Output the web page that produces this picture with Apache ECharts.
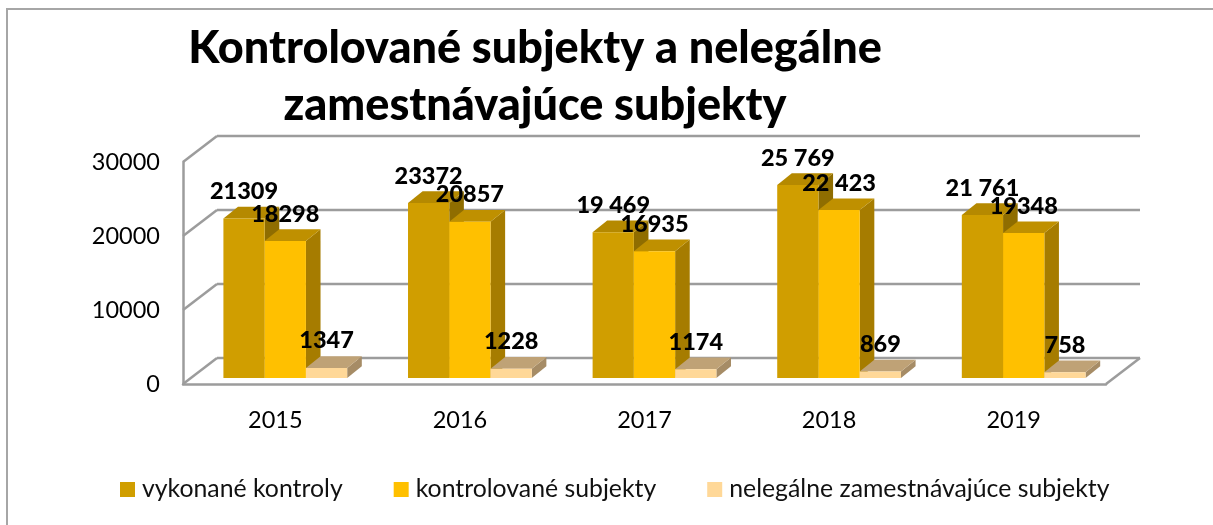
<!DOCTYPE html>
<html><head><meta charset="utf-8">
<style>html,body{margin:0;padding:0;background:#fff}#c{width:1213px;height:525px}</style>
<script src="https://cdn.jsdelivr.net/npm/echarts@6/dist/echarts.min.js"></script>
</head><body><div id="c"></div>
<script>
const categories = ['2015','2016','2017','2018','2019'];
const seriesNames = ['vykonané kontroly','kontrolované subjekty','nelegálne zamestnávajúce subjekty'];
const kontroly = [21309,23372,19469,25769,21761];
const subjekty = [18298,20857,16935,22423,19348];
const nelegalne = [1347,1228,1174,869,758];
const kontrolyLabels = ['21309','23372','19 469','25 769','21 761'];
const subjektyLabels = ['18298','20857','16935','22 423','19348'];
const nelegalneLabels = ['1347','1228','1174','869','758'];
const yTicks = [0,10000,20000,30000];
const title = 'Kontrolované subjekty a nelegálne\nzamestnávajúce subjekty';

const FONT = 'Lato';
const WALL = '#9c9c9c';
const WALL_DX = 34, WALL_DY = 26;      // depth of the 3D box
const BAR_DX = 14.6, BAR_DY = 11.7;    // depth of a bar
const FRONT_DX = 10, FRONT_DY = 6;     // bar front face set back from box front
const BAR_RATIO = 0.2235;
const PERSPECTIVE = 1.012;             // bars sit nearer the viewer than the back wall
const faces = [
  {front:'#d09e00', top:'#b58900', side:'#8f6d00'},
  {front:'#ffc000', top:'#bf9000', side:'#a67c00'},
  {front:'#ffd898', top:'#bfa276', side:'#a68c66'}
];
const valueSets = [kontroly, subjekty, nelegalne];
const labelSets = [kontrolyLabels, subjektyLabels, nelegalneLabels];

function barGeom(api, s, i, v){
  const p = api.coord([i, v]), p0 = api.coord([i, 0]);
  const w = api.size([1,0])[0]*BAR_RATIO;
  const x0 = p[0] + FRONT_DX + (s-1.5)*w;
  const yb = p0[1]-FRONT_DY;
  return {x0, x1:x0+w, yt:yb-(p0[1]-p[1])*PERSPECTIVE, yb};
}
function renderBar(s){
  return function(params, api){
    const g = barGeom(api, s, api.value(0), api.value(1));
    const c = faces[s];
    const poly = (pts, fill) => ({type:'polygon', shape:{points:pts}, style:{fill}, silent:true});
    return {type:'group', children:[
      poly([[g.x1,g.yt],[g.x1+BAR_DX,g.yt-BAR_DY],[g.x1+BAR_DX,g.yb-BAR_DY],[g.x1,g.yb]], c.side),
      poly([[g.x0,g.yt],[g.x0+BAR_DX,g.yt-BAR_DY],[g.x1+BAR_DX,g.yt-BAR_DY],[g.x1,g.yt]], c.top),
      poly([[g.x0,g.yt],[g.x1,g.yt],[g.x1,g.yb],[g.x0,g.yb]], c.front)
    ]};
  };
}
function renderLabel(params, api){
  const s = api.value(2), i = api.value(0);
  const g = barGeom(api, s, i, api.value(1));
  return {type:'text', style:{
    text: labelSets[s][i], x:(g.x0+g.x1)/2, y:g.yt-27,
    align:'center', verticalAlign:'middle',
    font:'900 23.5px '+FONT, fill:'#000'
  }};
}
function renderWall(params, api){
  const cs = params.coordSys;
  const y = api.coord([0, api.value(1)])[1];
  const left = cs.x, right = cs.x+cs.width;
  const line = (a,b,c,d,col) => ({type:'line', shape:{x1:a,y1:b,x2:c,y2:d}, style:{stroke:col||WALL, lineWidth:2.5}, silent:true});
  const kids = [
    line(left,y,left+WALL_DX,y-WALL_DY),
    line(left+WALL_DX,y-WALL_DY,right+WALL_DX,y-WALL_DY)
  ];
  if (api.value(1)===0) kids.push(line(right,y,right+WALL_DX,y-WALL_DY));
  return {type:'group', children:kids};
}
const labelRows = [];
valueSets.forEach((vals,s)=>vals.forEach((v,i)=>labelRows.push([i,v,s])));

const chart = echarts.init(document.getElementById('c'), null, {renderer:'canvas'});
chart.setOption({
  animation:false,
  backgroundColor:'#fff',
  graphic:[{type:'rect', shape:{x:7,y:9,width:1300,height:600}, style:{fill:'none',stroke:'#a6a6a6',lineWidth:2}, silent:true, z:-1}],
  title:{text:title, left:535, top:20, padding:0, textAlign:'center',
    textStyle:{fontFamily:FONT,fontWeight:900,fontSize:45,lineHeight:57,color:'#000'}},
  legend:{data:seriesNames, left:120, top:477, padding:0, icon:'rect', itemWidth:15, itemHeight:15, itemGap:51,
    textStyle:{fontFamily:FONT,fontSize:24.8,color:'#111',padding:[0,0,0,2]}},
  grid:{left:183, right:107, top:162, bottom:141, containLabel:false},
  xAxis:{type:'category', data:categories, axisTick:{show:false},
    axisLine:{lineStyle:{color:WALL,width:2.5}},
    axisLabel:{fontFamily:FONT,fontSize:23.5,color:'#000',margin:24}},
  yAxis:{type:'value', min:0, max:30000, interval:10000, splitLine:{show:false},
    axisLine:{show:true,lineStyle:{color:WALL,width:2.5}}, axisTick:{show:false},
    axisLabel:{fontFamily:FONT,fontSize:23.5,color:'#000',margin:23,padding:[6,0,0,0],formatter:v=>String(v)}},
  series:[
    {type:'custom', name:'wall', data:yTicks.map(t=>[0,t]), encode:{x:0,y:1}, renderItem:renderWall, z:1, silent:true},
    ...seriesNames.map((n,s)=>({type:'custom', name:n, data:valueSets[s].map((v,i)=>[i,v]), encode:{x:0,y:1},
      renderItem:renderBar(s), itemStyle:{color:faces[s].front}, z:2+s, silent:true})),
    {type:'custom', name:'labels', data:labelRows, encode:{x:0,y:1}, renderItem:renderLabel, z:10, silent:true}
  ]
});
</script></body></html>
